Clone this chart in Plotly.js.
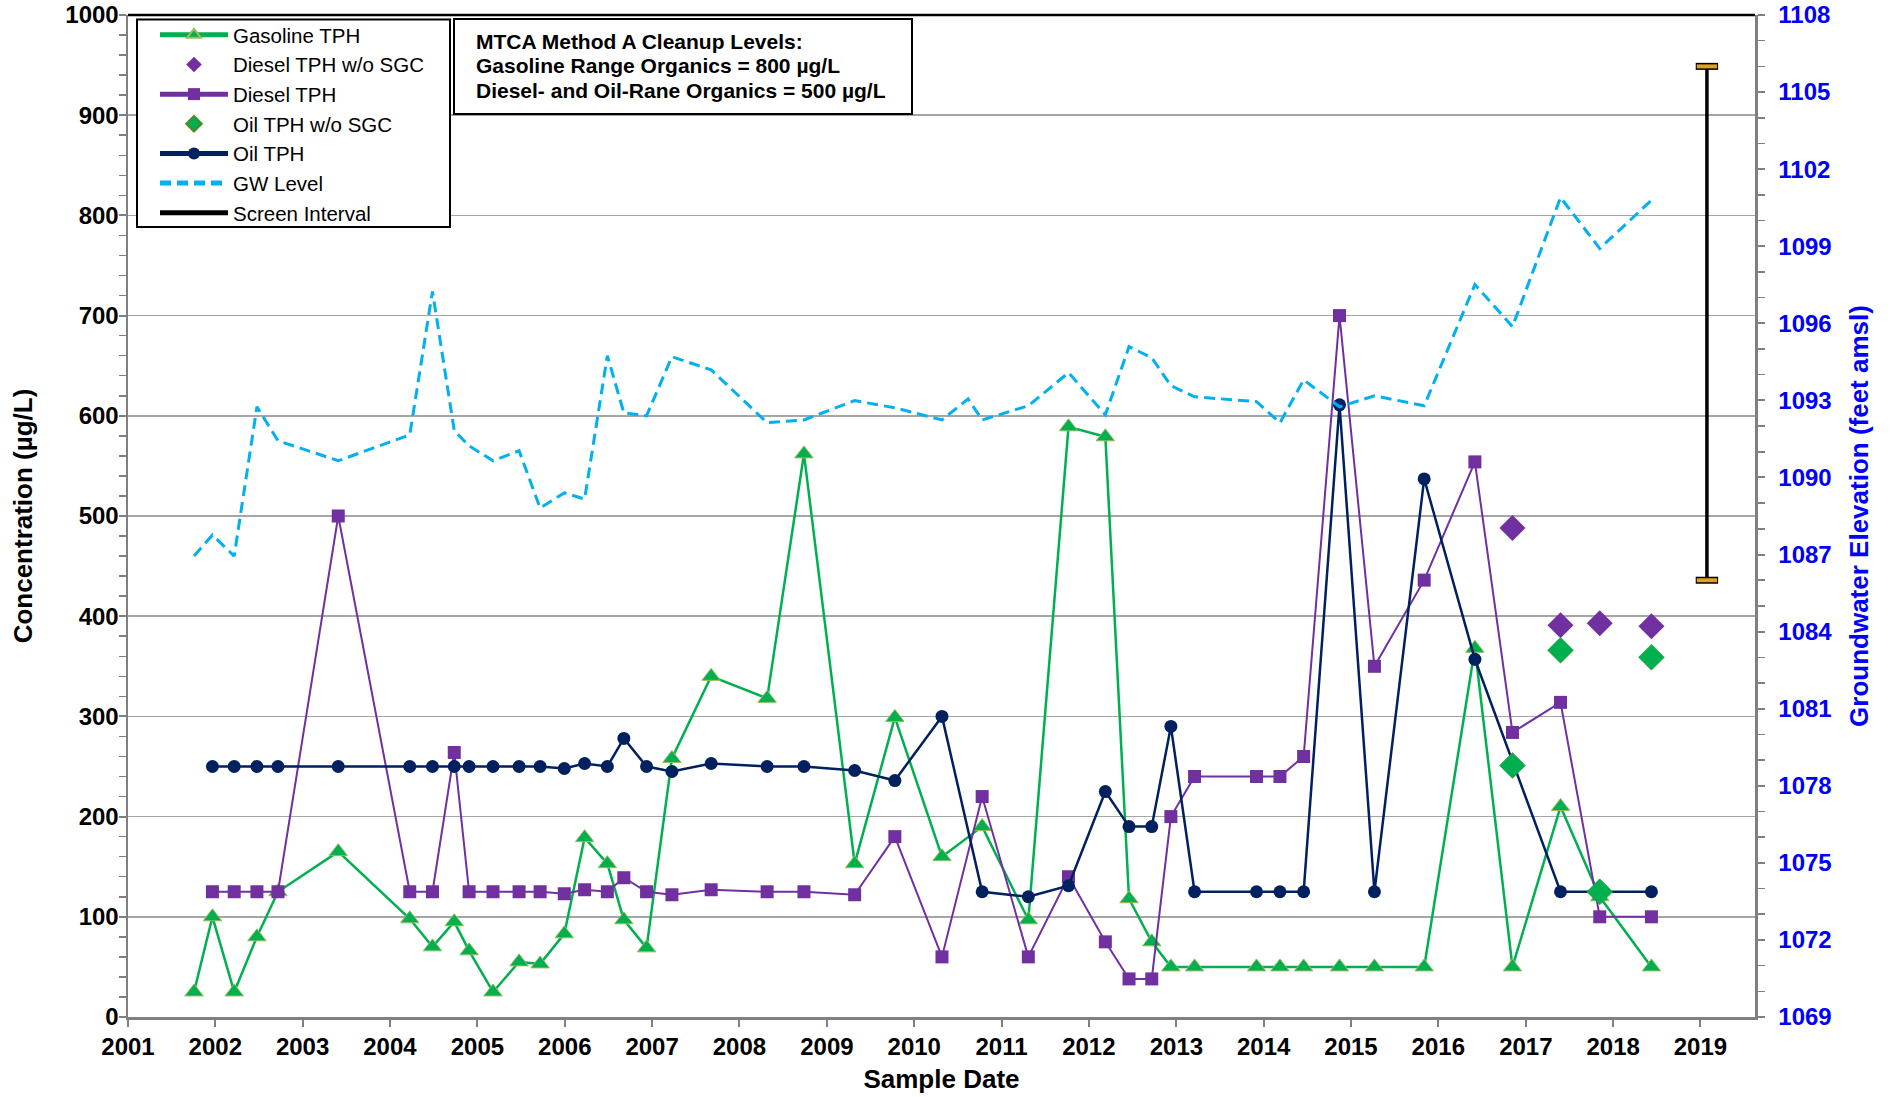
<!DOCTYPE html>
<html>
<head>
<meta charset="utf-8">
<script src="https://cdn.plot.ly/plotly-3.0.1.min.js"></script>
<style>html,body{margin:0;padding:0;background:#fff;}#chart{width:1895px;height:1097px;}</style>
</head>
<body>
<div id="chart"></div>
<script>
// ---------------- DATA ----------------
const gasDates = ["2001-10-04","2001-12-20","2002-03-21","2002-06-24","2002-09-20","2003-05-30","2004-03-24","2004-06-27","2004-09-26","2004-11-27","2005-03-07","2005-06-24","2005-09-20","2005-12-30","2006-03-25","2006-06-28","2006-09-05","2006-12-09","2007-03-25","2007-09-05","2008-04-26","2008-09-27","2009-04-27","2009-10-12","2010-04-27","2010-10-12","2011-04-23","2011-10-08","2012-03-10","2012-06-17","2012-09-20","2012-12-09","2013-03-18","2013-12-02","2014-03-10","2014-06-17","2014-11-14","2015-04-09","2015-11-03","2016-06-02","2016-11-06","2017-05-26","2017-11-06","2018-06-10"];
const gasVals = [25,100,25,80,125,165,98,70,95,66,25,55,53,83,179,153,97,69,258,340,318,562,153,299,160,190,97,589,579,118,75,50,50,50,50,50,50,50,50,368,50,210,120,50];

const dieselDates = ["2001-12-20","2002-03-21","2002-06-24","2002-09-20","2003-05-30","2004-03-24","2004-06-27","2004-09-26","2004-11-27","2005-03-07","2005-06-24","2005-09-20","2005-12-30","2006-03-25","2006-06-28","2006-09-05","2006-12-09","2007-03-25","2007-09-05","2008-04-26","2008-09-27","2009-04-27","2009-10-12","2010-04-27","2010-10-12","2011-04-23","2011-10-08","2012-03-10","2012-06-17","2012-09-20","2012-12-09","2013-03-18","2013-12-02","2014-03-10","2014-06-17","2014-11-14","2015-04-09","2015-11-03","2016-06-02","2016-11-06","2017-05-26","2017-11-06","2018-06-10"];
const dieselVals = [125,125,125,125,500,125,125,264,125,125,125,125,123,127,125,139,125,122,127,125,125,122,180,60,220,60,140,75,38,38,200,240,240,240,260,700,350,436,554,284,314,100,100];

const oilDates = ["2001-12-20","2002-03-21","2002-06-24","2002-09-20","2003-05-30","2004-03-24","2004-06-27","2004-09-26","2004-11-27","2005-03-07","2005-06-24","2005-09-20","2005-12-30","2006-03-25","2006-06-28","2006-09-05","2006-12-09","2007-03-25","2007-09-05","2008-04-26","2008-09-27","2009-04-27","2009-10-12","2010-04-27","2010-10-12","2011-04-23","2011-10-08","2012-03-10","2012-06-17","2012-09-20","2012-12-09","2013-03-18","2013-12-02","2014-03-10","2014-06-17","2014-11-14","2015-04-09","2015-11-03","2016-06-02","2017-05-26","2018-06-10"];
const oilVals = [250,250,250,250,250,250,250,250,250,250,250,250,248,253,250,278,250,245,253,250,250,246,236,300,125,120,131,225,190,190,290,125,125,125,125,611,125,537,357,125,125];

const dieselNoSgcDates = ["2016-11-06","2017-05-26","2017-11-06","2018-06-10"];
const dieselNoSgcVals = [488,391,393,390];

const oilNoSgcDates = ["2016-11-06","2017-05-26","2017-11-06","2018-06-10"];
const oilNoSgcVals = [251,366,125,359];

const gwDates = ["2001-10-04","2001-12-20","2002-03-21","2002-06-24","2002-09-20","2003-05-30","2004-03-24","2004-06-27","2004-09-26","2004-11-27","2005-03-07","2005-06-24","2005-09-20","2005-12-30","2006-03-25","2006-06-28","2006-09-05","2006-12-09","2007-03-25","2007-09-05","2008-04-26","2008-09-27","2009-04-27","2009-10-12","2010-04-27","2010-08-14","2010-10-12","2011-04-23","2011-10-08","2012-03-10","2012-06-17","2012-09-20","2012-12-09","2013-03-18","2013-12-02","2014-03-10","2014-06-17","2014-11-14","2015-04-09","2015-11-03","2016-06-02","2016-11-06","2017-05-26","2017-11-06","2018-06-10"];
const gwElev = [1086.94,1087.76,1086.94,1092.75,1091.43,1090.65,1091.66,1097.24,1091.82,1091.23,1090.65,1091.04,1088.81,1089.40,1089.16,1094.74,1092.52,1092.40,1094.70,1094.19,1092.13,1092.24,1092.99,1092.71,1092.24,1093.06,1092.24,1092.79,1094.08,1092.44,1095.09,1094.66,1093.57,1093.14,1092.95,1092.13,1093.80,1092.75,1093.18,1092.79,1097.51,1095.87,1100.90,1098.91,1100.79];

const screenDates = ["2019-01-28","2019-01-28"];
const screenElev = [1086, 1106];

const cleanupLines = ["MTCA Method A Cleanup Levels:", "Gasoline Range Organics = 800 µg/L", "Diesel- and Oil-Rane Organics = 500 µg/L"];

const xTitle = "Sample Date";
const yTitle = "Concentration (µg/L)";
const y2Title = "Groundwater Elevation (feet amsl)";

// ---------------- STYLE ----------------
const GREEN = "#00B050", PURPLE = "#7030A0", NAVY = "#002060", SKY = "#00B0F0", GOLD = "#E0A020";
const FONT = "Liberation Sans, Arial, sans-serif";
const AXISGRAY = "#808080", GRIDGRAY = "#A6A6A6";

const traces = [
  { name: "GW Level", x: gwDates, y: gwElev, yaxis: "y2", type: "scatter", mode: "lines",
    line: { color: SKY, width: 3, dash: "11px,6px" }, legendrank: 6 },
  { name: "Screen Interval", x: screenDates, y: screenElev, yaxis: "y2", type: "scatter", mode: "lines",
    line: { color: "#000000", width: 3.5 }, legendrank: 7 },
  { name: "cap-outline", x: screenDates, y: screenElev, yaxis: "y2", type: "scatter", mode: "markers",
    marker: { symbol: "line-ew", size: 16, line: { color: "#000000", width: 7 } }, showlegend: false, hoverinfo: "skip" },
  { name: "cap-fill", x: screenDates, y: screenElev, yaxis: "y2", type: "scatter", mode: "markers",
    marker: { symbol: "line-ew", size: 14.5, line: { color: GOLD, width: 4 } }, showlegend: false, hoverinfo: "skip" },
  { name: "Gasoline TPH", x: gasDates, y: gasVals, type: "scatter", mode: "lines+markers",
    line: { color: GREEN, width: 2.5 },
    marker: { symbol: "triangle-up", size: 16, color: GREEN, line: { color: "#9BBB59", width: 1 } }, legendrank: 1 },
  { name: "Diesel TPH", x: dieselDates, y: dieselVals, type: "scatter", mode: "lines+markers",
    line: { color: PURPLE, width: 2 },
    marker: { symbol: "square", size: 13, color: PURPLE }, legendrank: 3 },
  { name: "Oil TPH", x: oilDates, y: oilVals, type: "scatter", mode: "lines+markers",
    line: { color: NAVY, width: 2.5 },
    marker: { symbol: "circle", size: 13, color: NAVY }, legendrank: 5 },
  { name: "Diesel TPH w/o SGC", x: dieselNoSgcDates, y: dieselNoSgcVals, type: "scatter", mode: "markers",
    marker: { symbol: "diamond", size: 20, color: PURPLE }, legendrank: 2 },
  { name: "Oil TPH w/o SGC", x: oilNoSgcDates, y: oilNoSgcVals, type: "scatter", mode: "markers",
    marker: { symbol: "diamond", size: 20, color: GREEN, line: { color: "#4F8A2A", width: 0.5 } }, legendrank: 4 }
];

const PL = 128, PR = 1755, PT = 15, PB = 1017;
const PW = PR - PL, PH = PB - PT;
const px = v => (v - PL) / PW;          // pixel -> paper x
const py = v => 1 - (v - PT) / PH;      // pixel -> paper y

const annotations = cleanupLines.map((t, i) => ({
  text: t, xref: "paper", yref: "paper", x: px(474), y: py(41 + i * 24.6),
  xanchor: "left", yanchor: "middle", showarrow: false, align: "left",
  font: { family: FONT, size: 21, color: "#000", weight: "bold" }
}));

const layout = {
  width: 1895, height: 1097,
  margin: { l: PL, r: 1895 - PR, t: PT, b: 1097 - PB },
  paper_bgcolor: "#ffffff", plot_bgcolor: "#ffffff",
  showlegend: true,
  legend: {
    x: px(155), y: py(15), xanchor: "left", yanchor: "top",
    bgcolor: "rgba(0,0,0,0)", borderwidth: 0,
    font: { family: FONT, size: 20.5, color: "#000" },
    itemwidth: 68, itemsizing: "constant", traceorder: "normal"
  },
  xaxis: {
    type: "date", range: ["2001-01-01", "2019-08-17"],
    tick0: "2001-01-01", dtick: "M12", tickformat: "%Y",
    ticks: "outside", ticklen: 7, tickwidth: 2, tickcolor: AXISGRAY,
    showline: true, linecolor: AXISGRAY, linewidth: 2.5,
    showgrid: false, zeroline: false,
    tickfont: { family: FONT, size: 24, color: "#000", weight: "bold" },
    title: { text: xTitle, font: { family: FONT, size: 26, color: "#000", weight: "bold" }, standoff: 11 }
  },
  yaxis: {
    range: [0, 1000], dtick: 100, tick0: 0,
    ticks: "outside", ticklen: 7, tickwidth: 2, tickcolor: AXISGRAY,
    showline: true, linecolor: AXISGRAY, linewidth: 2.5,
    showgrid: true, gridcolor: GRIDGRAY, gridwidth: 1.5, zeroline: false,
    minor: { dtick: 20, ticks: "outside", ticklen: 7, tickwidth: 1.5, tickcolor: AXISGRAY, showgrid: false },
    tickfont: { family: FONT, size: 24, color: "#000", weight: "bold" },
    ticklabelstandoff: -5,
    title: { text: yTitle, font: { family: FONT, size: 26, color: "#000", weight: "bold" }, standoff: 25 }
  },
  yaxis2: {
    overlaying: "y", side: "right", range: [1069, 1108], dtick: 3, tick0: 1069,
    ticks: "outside", ticklen: 7, tickwidth: 2, tickcolor: AXISGRAY,
    showline: true, linecolor: AXISGRAY, linewidth: 2.5,
    showgrid: false, zeroline: false,
    minor: { dtick: 1, ticks: "outside", ticklen: 7, tickwidth: 1.5, tickcolor: AXISGRAY, showgrid: false },
    tickfont: { family: FONT, size: 24, color: "#0000FF", weight: "bold" },
    ticklabelstandoff: 9,
    title: { text: y2Title, font: { family: FONT, size: 26, color: "#0000FF", weight: "bold" }, standoff: 19 }
  },
  shapes: [
    { type: "line", xref: "paper", yref: "paper", x0: 0, x1: 1, y0: 1, y1: 1, line: { color: "#000", width: 2.5 } },
    { type: "rect", xref: "paper", yref: "paper", x0: px(137), x1: px(450), y0: py(19.5), y1: py(227),
      line: { color: "#000", width: 2 }, fillcolor: "#ffffff", layer: "above" },
    { type: "rect", xref: "paper", yref: "paper", x0: px(454), x1: px(912), y0: py(19), y1: py(114),
      line: { color: "#000", width: 2 }, fillcolor: "#ffffff", layer: "above" }
  ],
  annotations: annotations
};

Plotly.newPlot("chart", traces, layout, { staticPlot: true, displayModeBar: false });
</script>
</body>
</html>
